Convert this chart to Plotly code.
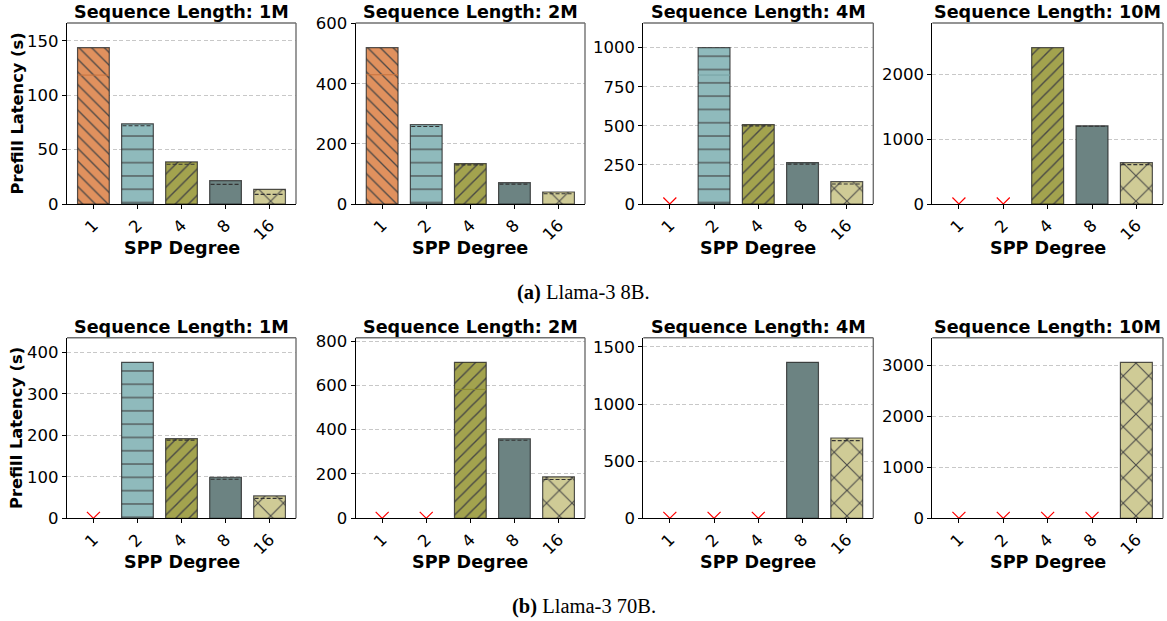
import plotly.graph_objects as go
import numpy as np

# ---------------- data ----------------
degrees = ["1", "2", "4", "8", "16"]
seq_lengths = ["1M", "2M", "4M", "10M"]

# Llama-3 8B prefill latency (s), None = not runnable (OOM)
l8b_1m = [143.8, 73.8, 38.7, 21.5, 13.5]
l8b_2m = [520, 264, 134.6, 71, 40]
l8b_4m = [None, 1000, 508, 265, 143]
l8b_10m = [None, None, 2411, 1206, 638]

# dashed reference marks inside bars (Llama-3 8B)
l8b_1m_dash = [None, 72, 36.6, 18.1, 8.9]
l8b_2m_dash = [None, 258, 130, 66, 34]
l8b_4m_dash = [None, None, 500, 255, 128]
l8b_10m_dash = [None, None, None, 1200, 607]

# faint solid inner marks (Llama-3 8B)
l8b_1m_inner = [118.6, None, None, None, None]
l8b_2m_inner = [430, None, None, None, None]
l8b_4m_inner = [None, 825, None, None, None]
l8b_10m_inner = [None, None, None, None, None]

# Llama-3 70B prefill latency (s)
l70b_1m = [None, 376, 192, 99, 54]
l70b_2m = [None, None, 704, 359, 187]
l70b_4m = [None, None, None, 1365, 703]
l70b_10m = [None, None, None, None, 3058]

l70b_1m_dash = [None, None, 188.5, 94, 48]
l70b_2m_dash = [None, None, None, 352, 175]
l70b_4m_dash = [None, None, None, None, 680]
l70b_10m_dash = [None, None, None, None, None]

l70b_1m_inner = [None, None, None, None, None]
l70b_2m_inner = [None, None, 582, None, None]
l70b_4m_inner = [None, None, None, None, None]
l70b_10m_inner = [None, None, None, None, None]

y_dticks_8b = [50, 200, 250, 1000]
y_dticks_70b = [100, 200, 500, 1000]

captions = ["<b>(a)</b> Llama-3 8B.", "<b>(b)</b> Llama-3 70B."]

# ---------------- style ----------------
colors = ["#E0915E", "#8FBABC", "#A3A34E", "#6C8382", "#CFCB96"]
inner_colors = ["#C8733E", "#77A3A5", "#8A8A30", "#5A7070", "#B5B07A"]
hatches = ["\\", "-", "/", "", "x"]
hatch_sizes = [9, 13.3, 9.3, 10, 18]
hatch_solidity = [0.15, 0.09, 0.15, 0.1, 0.12]
bar_w = 0.72
FW, FH = 1167, 621

col_px = [(67, 296), (355.7, 585), (643.3, 873.3), (932.3, 1163)]
row_px = [(23, 204), (337.7, 518.3)]

rows = [
    (l8b_1m, l8b_2m, l8b_4m, l8b_10m),
    (l70b_1m, l70b_2m, l70b_4m, l70b_10m),
]
rows_dash = [
    (l8b_1m_dash, l8b_2m_dash, l8b_4m_dash, l8b_10m_dash),
    (l70b_1m_dash, l70b_2m_dash, l70b_4m_dash, l70b_10m_dash),
]
rows_inner = [
    (l8b_1m_inner, l8b_2m_inner, l8b_4m_inner, l8b_10m_inner),
    (l70b_1m_inner, l70b_2m_inner, l70b_4m_inner, l70b_10m_inner),
]
rows_dtick = [y_dticks_8b, y_dticks_70b]

pos = np.arange(len(degrees))

fig = go.Figure()
layout = dict(
    width=FW, height=FH, margin=dict(l=0, r=0, t=0, b=0, autoexpand=False),
    paper_bgcolor="white", plot_bgcolor="white", showlegend=False,
    font=dict(family="DejaVu Sans", color="black"),
    bargap=1 - bar_w,
)
annotations = []
shapes = []

k = 0
for r in range(2):
    for c in range(4):
        k += 1
        xa = "x" if k == 1 else f"x{k}"
        ya = "y" if k == 1 else f"y{k}"
        vals = rows[r][c]
        dash = rows_dash[r][c]
        inner = rows_inner[r][c]

        bx, by, bc, bh, bs, bsol = [], [], [], [], [], []
        for i, v in enumerate(vals):
            if v is not None:
                bx.append(pos[i]); by.append(v); bc.append(colors[i])
                bh.append(hatches[i]); bs.append(hatch_sizes[i]); bsol.append(hatch_solidity[i])
        fig.add_trace(go.Bar(
            x=bx, y=by, width=bar_w, xaxis=xa, yaxis=ya,
            marker=dict(color=bc, line=dict(color="rgba(30,30,30,0.75)", width=1.2),
                        pattern=dict(shape=bh, size=bs, solidity=bsol,
                                     fgcolor="#151515", fgopacity=0.95, fillmode="overlay")),
        ))

        # inner solid marks
        for i, v in enumerate(inner):
            if v is not None:
                fig.add_trace(go.Scatter(
                    x=[pos[i] - bar_w / 2, pos[i] + bar_w / 2], y=[v, v], mode="lines",
                    line=dict(color=inner_colors[i], width=1), xaxis=xa, yaxis=ya,
                    hoverinfo="skip"))
        # dashed marks
        dx, dy = [], []
        for i, v in enumerate(dash):
            if v is not None:
                dx += [pos[i] - bar_w / 2 + 0.02, pos[i] + bar_w / 2 - 0.02, None]
                dy += [v, v, None]
        if dx:
            fig.add_trace(go.Scatter(x=dx, y=dy, mode="lines", xaxis=xa, yaxis=ya,
                                     line=dict(color="#333333", width=1.1, dash="4px,2px"),
                                     hoverinfo="skip"))
        # missing markers
        mx = [pos[i] for i, v in enumerate(vals) if v is None]
        if mx:
            fig.add_trace(go.Scatter(
                x=mx, y=[0] * len(mx), mode="markers", xaxis=xa, yaxis=ya,
                cliponaxis=True,
                marker=dict(symbol="x-thin", size=13, color="red",
                            line=dict(color="red", width=1.2))))

        ymax = max(v for v in vals if v is not None) * 1.158
        x0p, x1p = col_px[c]
        y0p, y1p = row_px[r]
        xd = [x0p / FW, x1p / FW]
        yd = [1 - y1p / FH, 1 - y0p / FH]
        layout["xaxis" if k == 1 else f"xaxis{k}"] = dict(
            domain=xd, anchor=ya, range=[-0.6, len(degrees) - 0.4], automargin=False,
            tickvals=list(pos), ticktext=degrees, tickangle=-45,
            ticks="outside", ticklen=4, tickcolor="black", tickfont=dict(size=16.5),
            showline=True, linecolor="black", linewidth=1.2, showgrid=False,
            zeroline=False,
        )
        layout["yaxis" if k == 1 else f"yaxis{k}"] = dict(
            domain=yd, anchor=xa, range=[0, ymax], dtick=rows_dtick[r][c], tick0=0,
            automargin=False,
            ticks="outside", ticklen=4, tickcolor="black", tickfont=dict(size=16.5),
            showline=True, linecolor="black", linewidth=1.2,
            showgrid=True, gridcolor="#c8c8c8", griddash="4px,2.5px", gridwidth=1,
            zeroline=False,
        )
        # top & right spines (gray)
        shapes.append(dict(type="line", xref="paper", yref="paper", x0=xd[0], x1=xd[1],
                           y0=yd[1], y1=yd[1], line=dict(color="#707070", width=1.6)))
        shapes.append(dict(type="line", xref="paper", yref="paper", x0=xd[1], x1=xd[1],
                           y0=yd[0], y1=yd[1], line=dict(color="#707070", width=1.4)))
        # panel title
        annotations.append(dict(
            text=f"<b>Sequence Length: {seq_lengths[c]}</b>", xref="paper", yref="paper",
            x=(xd[0] + xd[1]) / 2, y=1 - (y0p - 11) / FH, showarrow=False,
            xanchor="center", yanchor="middle", font=dict(size=17.6)))
        # x title
        annotations.append(dict(
            text="<b>SPP Degree</b>", xref="paper", yref="paper",
            x=(xd[0] + xd[1]) / 2, y=1 - (y1p + 44) / FH, showarrow=False,
            xanchor="center", yanchor="middle", font=dict(size=17.6)))
        if c == 0:
            annotations.append(dict(
                text="<b>Prefill Latency (s)</b>", xref="paper", yref="paper",
                x=17 / FW, y=(yd[0] + yd[1]) / 2, showarrow=False, textangle=-90,
                xanchor="center", yanchor="middle", font=dict(size=16.3)))

for r, cap_y in enumerate([292, 606]):
    annotations.append(dict(
        text=captions[r], xref="paper", yref="paper", x=0.5, y=1 - cap_y / FH,
        showarrow=False, xanchor="center", yanchor="middle",
        font=dict(family="Liberation Serif", size=20.5, color="black")))

layout["annotations"] = annotations
layout["shapes"] = shapes
fig.update_layout(**layout)
fig.write_html("out.html", config={"displayModeBar": False},
               post_script="document.body.style.margin='0px';document.body.style.padding='0px';")
